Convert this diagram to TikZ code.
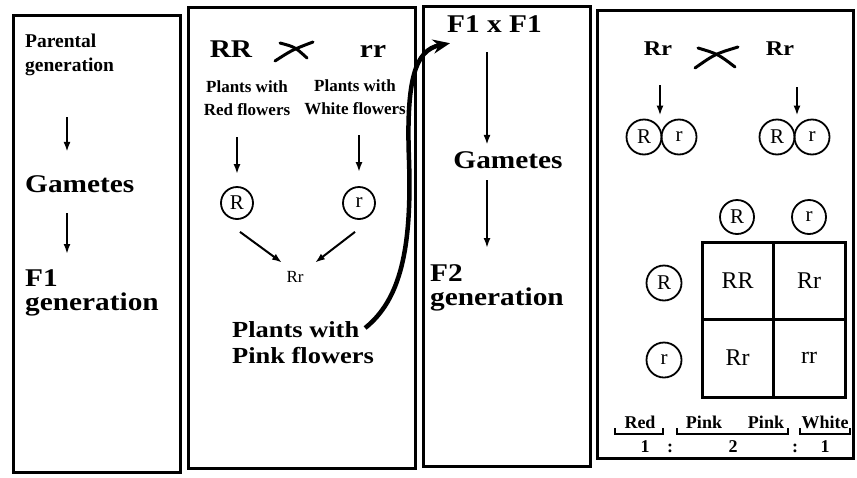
\documentclass[tikz,border=0pt]{standalone}
\usepackage{fontspec}
\setmainfont{Liberation Serif}
\newfontfamily\widefont{Liberation Serif}[FakeStretch=1.15]
\usetikzlibrary{arrows.meta}

\begin{document}
\begin{tikzpicture}[x=1pt, y=-1pt,
    panel/.style={line width=3pt},
    txt/.style={inner sep=0pt},
    big/.style={txt, font=\widefont\bfseries\fontsize{25.5}{24}\selectfont, align=left},
    lbl/.style={txt, font=\bfseries\fontsize{17}{23}\selectfont, align=center},
    gam/.style={circle, draw, line width=1.8pt, inner sep=0pt, minimum size=32pt, font=\fontsize{21}{21}\selectfont},
    cell/.style={txt, font=\fontsize{24}{24}\selectfont},
    arr/.style={line width=2pt, -{Latex[length=10pt,width=7pt]}},
    cross/.style={line width=3pt, line cap=round}]
  \useasboundingbox (0,0) rectangle (857,477);

  % frames
  \draw[panel] (13,15) rectangle (180,472);
  \draw[panel] (188,7) rectangle (415,468);
  \draw[panel] (423,6) rectangle (590,466);
  \draw[panel] (597,10) rectangle (853,458);

  % arrow columns
  \coordinate (k1) at (67,0);
  \coordinate (k2) at (237,0);
  \coordinate (k3) at (359,0);
  \coordinate (k4) at (487,0);
  \coordinate (k5) at (660,0);
  \coordinate (k6) at (797,0);

  % first panel
  \node[txt, font=\bfseries\fontsize{19.5}{24}\selectfont, align=left, anchor=north west] (parent) at (25,34) {Parental\\generation};
  \node[big, anchor=base west] (gam1) at (25,192) {Gametes};
  \node[big, anchor=north west] (f1gen) at (25,269) {F1\\generation};
  \draw[arr, shorten <=41pt, shorten >=23pt] (parent.south -| k1) -- (gam1.north -| k1);
  \draw[arr, shorten <=21pt, shorten >=15pt] (gam1.south -| k1) -- (f1gen.north -| k1);

  % second panel
  \node[big, anchor=base] (RRtxt) at (231,57) {RR};
  \node[big, anchor=base] (rrtxt) at (373,57) {rr};
  \draw[cross] (275,61) .. controls (292,50) .. (313,42);
  \draw[cross] (280,43) .. controls (295,47) .. (307,58);
  \node[lbl, anchor=north] (redtxt) at (247,81) {Plants with\\Red flowers};
  \node[lbl, anchor=north] (whitetxt) at (355,80) {Plants with\\White flowers};
  \node[gam] (gR) at (237,203) {R};
  \node[gam] (gr) at (359,203) {r};
  \draw[arr, shorten <=21pt, shorten >=12pt] (redtxt.south -| k2) -- (gR.north -| k2);
  \draw[arr, shorten <=20pt, shorten >=14pt] (whitetxt.south -| k3) -- (gr.north -| k3);
  \node[txt, font=\fontsize{17}{17}\selectfont, anchor=base] (Rr) at (295,282) {Rr};
  \draw[arr] ([shift={(3,12)}]gR.south) -- ([shift={(-13,-8)}]Rr.north);
  \draw[arr] ([shift={(-4,12)}]gr.south) -- ([shift={(20,-8)}]Rr.north);
  \node[big, font=\widefont\bfseries\fontsize{23}{26}\selectfont, anchor=north] (pinktxt) at (303,321) {Plants with\\Pink flowers};

  % third panel
  \node[big, anchor=base west] (f1x) at (447,32) {F1 x F1};
  \node[big, anchor=base] (gam2) at (508,168) {Gametes};
  \node[big, anchor=north west] (f2gen) at (430,264) {F2\\generation};
  \draw[arr, shorten <=20pt, shorten >=6pt] (f1x.south -| k4) -- (gam2.north -| k4);
  \draw[arr, shorten <=12pt, shorten >=16pt] (gam2.south -| k4) -- (f2gen.north -| k4);

  % F1 plants carried over to the next cross
  \draw[line width=4.5pt, -{Stealth[length=17pt,width=14pt]}] ([shift={(-9,7)}]pinktxt.north east)
    .. controls (400,300) and (412,250) .. (409,160)
    .. controls (406,80) and (415,50) .. ([shift={(3,11)}]f1x.south west);

  % fourth panel
  \node[big, font=\widefont\bfseries\fontsize{21}{21}\selectfont, anchor=base] (Rr1) at (658,55) {Rr};
  \node[big, font=\widefont\bfseries\fontsize{21}{21}\selectfont, anchor=base] (Rr2) at (780,55) {Rr};
  \draw[cross] (695,68) .. controls (715,54) .. (738,47);
  \draw[cross] (698,48) .. controls (718,54) .. (735,67);
  \node[gam, minimum size=35pt] (lR) at (644,137) {R};
  \node[gam, minimum size=35pt] (lr) at (679,137) {r};
  \node[gam, minimum size=35pt] (rR) at (777,137) {R};
  \node[gam, minimum size=35pt] (rr) at (812,137) {r};
  \draw[arr, shorten <=30pt, shorten >=3pt] (Rr1.south -| k5) -- (lR.north -| k5);
  \draw[arr, shorten <=32pt, shorten >=3pt] (Rr2.south -| k6) -- (rR.north -| k6);

  % Punnett square
  \node[gam, minimum size=34pt] (hR) at (737,217) {R};
  \node[gam, minimum size=34pt] (hr) at (809,217) {r};
  \node[gam, minimum size=35pt] (vR) at (664,283) {R};
  \node[gam, minimum size=35pt] (vr) at (664,360) {r};
  \draw[line width=3pt] (702,242) rectangle (845,397);
  \draw[line width=3pt] (773,242) -- (773,397);
  \draw[line width=3pt] (702,319) -- (845,319);
  \node[cell] (c11) at (737.5,280.5) {RR};
  \node[cell] (c12) at (809,280.5) {Rr};
  \node[cell] (c21) at (737.5,358) {Rr};
  \node[cell] (c22) at (809,358) {rr};

  % phenotype ratio
  \node[lbl, font=\bfseries\fontsize{18}{18}\selectfont, anchor=base] (red) at (640,428) {Red};
  \node[lbl, font=\bfseries\fontsize{18}{18}\selectfont, anchor=base] (pink1) at (704,428) {Pink};
  \node[lbl, font=\bfseries\fontsize{18}{18}\selectfont, anchor=base] (pink2) at (766,428) {Pink};
  \node[lbl, font=\bfseries\fontsize{18}{18}\selectfont, anchor=base] (white) at (825,428) {White};
  \draw[line width=2pt] (615,428) -- (615,434) -- (663,434) -- (663,428);
  \draw[line width=2pt] (677,428) -- (677,434) -- (788,434) -- (788,428);
  \draw[line width=2pt] (800,428) -- (800,434) -- (850,434) -- (850,428);
  \node[lbl, font=\bfseries\fontsize{18}{18}\selectfont, anchor=base] (n1) at (645,452) {1};
  \node[lbl, font=\bfseries\fontsize{18}{18}\selectfont, anchor=base] (s1) at (670,452) {:};
  \node[lbl, font=\bfseries\fontsize{18}{18}\selectfont, anchor=base] (n2) at (733,452) {2};
  \node[lbl, font=\bfseries\fontsize{18}{18}\selectfont, anchor=base] (s2) at (795,452) {:};
  \node[lbl, font=\bfseries\fontsize{18}{18}\selectfont, anchor=base] (n3) at (825,452) {1};
\end{tikzpicture}
\end{document}
